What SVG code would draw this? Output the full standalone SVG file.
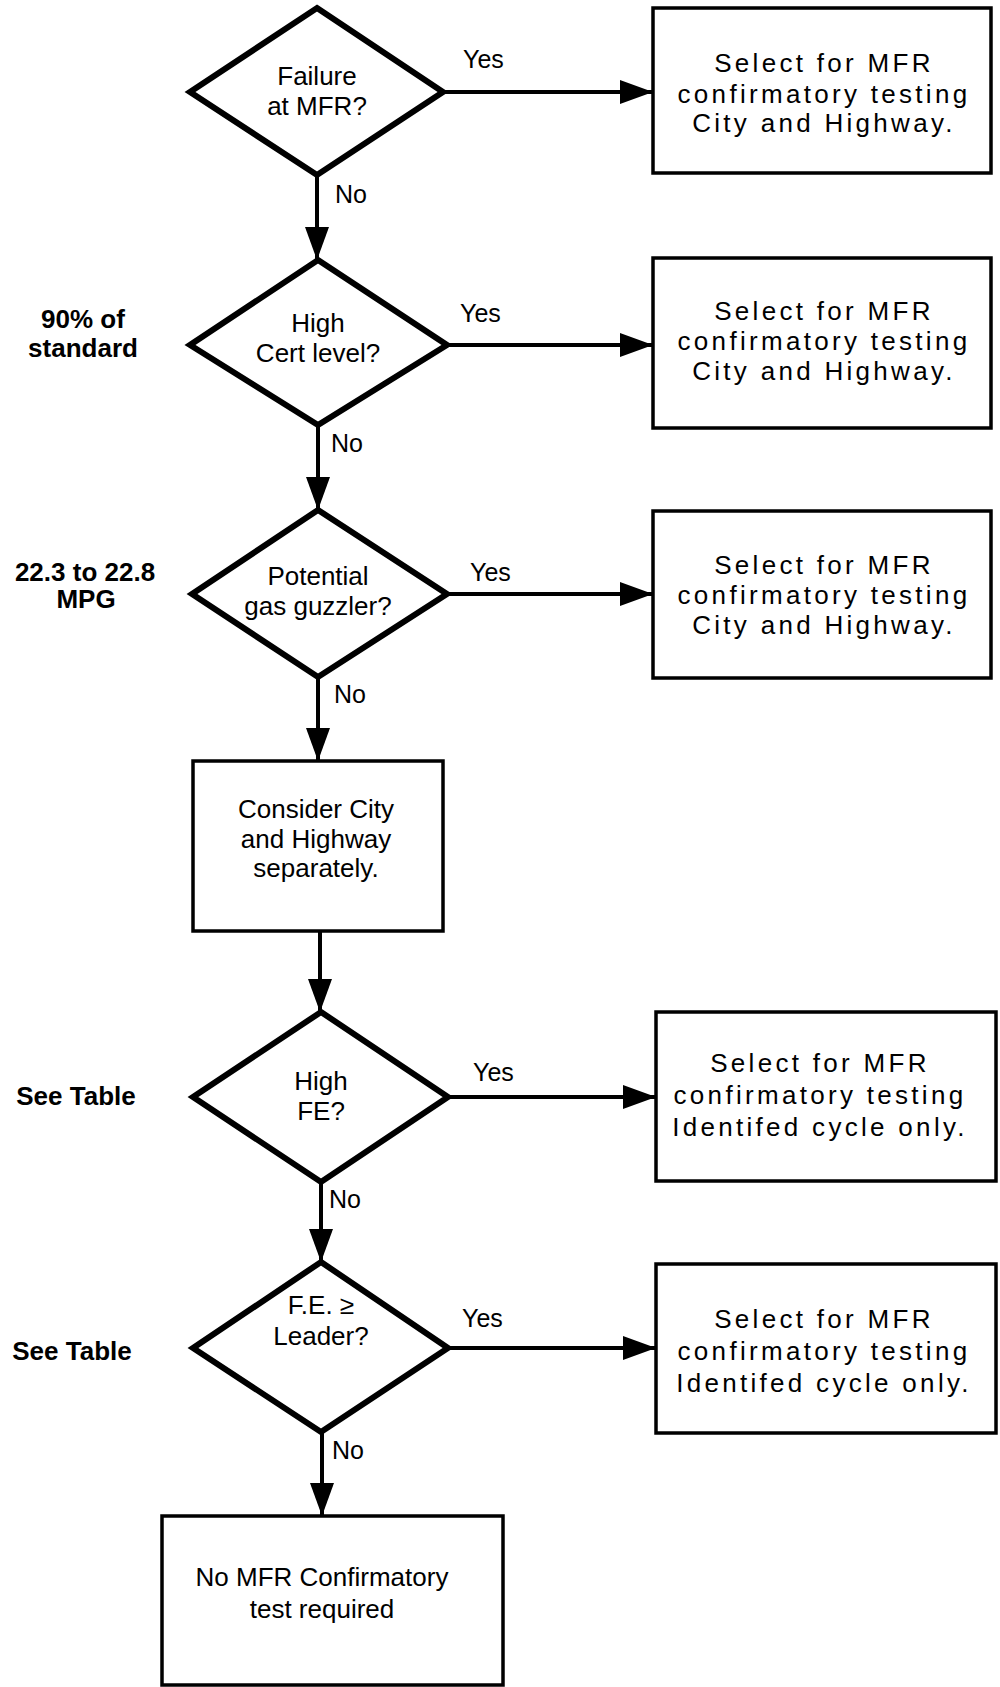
<svg xmlns="http://www.w3.org/2000/svg" width="1000" height="1687" viewBox="0 0 1000 1687">
<style>
.dia{fill:#fff;stroke:#000;stroke-width:6;stroke-linejoin:miter}
.box{fill:#fff;stroke:#000;stroke-width:3.5}
.con{fill:none;stroke:#000;stroke-width:4}
.t{font-family:"Liberation Sans",Arial,sans-serif;font-size:26px;fill:#000;text-anchor:middle}
.bt{font-family:"Liberation Sans",Arial,sans-serif;font-size:26px;letter-spacing:3.3px;fill:#000;text-anchor:middle}
.lbl{font-family:"Liberation Sans",Arial,sans-serif;font-size:25px;fill:#000}
.side{font-family:"Liberation Sans",Arial,sans-serif;font-size:26px;font-weight:bold;fill:#000;text-anchor:middle}
</style>
<defs>
<marker id="ah" markerUnits="userSpaceOnUse" markerWidth="34" markerHeight="26" refX="33" refY="12" orient="auto">
<path d="M0,0 L33,12 L0,24 z" fill="#000"/>
</marker>
</defs>
<rect width="1000" height="1687" fill="#fff"/>
<g id="connectors">
<line class="con" x1="443" y1="92" x2="653" y2="92" marker-end="url(#ah)"/>
<line class="con" x1="317" y1="175" x2="317" y2="260" marker-end="url(#ah)"/>
<line class="con" x1="447" y1="345" x2="653" y2="345" marker-end="url(#ah)"/>
<line class="con" x1="318" y1="425" x2="318" y2="510" marker-end="url(#ah)"/>
<line class="con" x1="447" y1="594" x2="653" y2="594" marker-end="url(#ah)"/>
<line class="con" x1="318" y1="677" x2="318" y2="761" marker-end="url(#ah)"/>
<line class="con" x1="320" y1="931" x2="320" y2="1012" marker-end="url(#ah)"/>
<line class="con" x1="448" y1="1097" x2="656" y2="1097" marker-end="url(#ah)"/>
<line class="con" x1="321" y1="1182" x2="321" y2="1262" marker-end="url(#ah)"/>
<line class="con" x1="448" y1="1348" x2="656" y2="1348" marker-end="url(#ah)"/>
<line class="con" x1="322" y1="1432" x2="322" y2="1516" marker-end="url(#ah)"/>
<text class="lbl" x="463" y="68">Yes</text>
<text class="lbl" x="335" y="203">No</text>
<text class="lbl" x="460" y="322">Yes</text>
<text class="lbl" x="331" y="452">No</text>
<text class="lbl" x="470" y="581">Yes</text>
<text class="lbl" x="334" y="703">No</text>
<text class="lbl" x="473" y="1081">Yes</text>
<text class="lbl" x="329" y="1208">No</text>
<text class="lbl" x="462" y="1327">Yes</text>
<text class="lbl" x="332" y="1459">No</text>
</g>
<g id="d1">
<polygon class="dia" points="317,8 443,92 317,175 190,92"/>
<text class="t" x="317" y="85">Failure</text>
<text class="t" x="317" y="115">at MFR?</text>
</g>
<g id="b1">
<rect class="box" x="653" y="8" width="338" height="165"/>
<text class="bt" x="824" y="72">Select for MFR</text>
<text class="bt" x="824" y="103">confirmatory testing</text>
<text class="bt" x="824" y="132">City and Highway.</text>
</g>
<g id="s1">
<text class="side" x="83" y="328">90% of</text>
<text class="side" x="83" y="357">standard</text>
</g>
<g id="d2">
<polygon class="dia" points="318,260 447,345 318,425 190,345"/>
<text class="t" x="318" y="332">High</text>
<text class="t" x="318" y="362">Cert level?</text>
</g>
<g id="b2">
<rect class="box" x="653" y="258" width="338" height="170"/>
<text class="bt" x="824" y="320">Select for MFR</text>
<text class="bt" x="824" y="350">confirmatory testing</text>
<text class="bt" x="824" y="380">City and Highway.</text>
</g>
<g id="s2">
<text class="side" x="85" y="581">22.3 to 22.8</text>
<text class="side" x="86" y="608">MPG</text>
</g>
<g id="d3">
<polygon class="dia" points="318,510 447,594 318,677 192,594"/>
<text class="t" x="318" y="585">Potential</text>
<text class="t" x="318" y="615">gas guzzler?</text>
</g>
<g id="b3">
<rect class="box" x="653" y="511" width="338" height="167"/>
<text class="bt" x="824" y="574">Select for MFR</text>
<text class="bt" x="824" y="604">confirmatory testing</text>
<text class="bt" x="824" y="634">City and Highway.</text>
</g>
<g id="c1">
<rect class="box" x="193" y="761" width="250" height="170"/>
<text class="t" x="316" y="818">Consider City</text>
<text class="t" x="316" y="848">and Highway</text>
<text class="t" x="316" y="877">separately.</text>
</g>
<g id="s3">
<text class="side" x="76" y="1105">See Table</text>
</g>
<g id="d4">
<polygon class="dia" points="321,1012 448,1097 321,1182 193,1097"/>
<text class="t" x="321" y="1090">High</text>
<text class="t" x="321" y="1120">FE?</text>
</g>
<g id="b4">
<rect class="box" x="656" y="1012" width="340" height="169"/>
<text class="bt" x="820" y="1072">Select for MFR</text>
<text class="bt" x="820" y="1104">confirmatory testing</text>
<text class="bt" x="820" y="1136">Identifed cycle only.</text>
</g>
<g id="s4">
<text class="side" x="72" y="1360">See Table</text>
</g>
<g id="d5">
<polygon class="dia" points="321,1262 448,1348 321,1432 193,1348"/>
<text class="t" x="321" y="1314">F.E. ≥</text>
<text class="t" x="321" y="1345">Leader?</text>
</g>
<g id="b5">
<rect class="box" x="656" y="1264" width="340" height="169"/>
<text class="bt" x="824" y="1328">Select for MFR</text>
<text class="bt" x="824" y="1360">confirmatory testing</text>
<text class="bt" x="824" y="1392">Identifed cycle only.</text>
</g>
<g id="end">
<rect class="box" x="162" y="1516" width="341" height="169"/>
<text class="t" x="322" y="1586">No MFR Confirmatory</text>
<text class="t" x="322" y="1618">test required</text>
</g>
</svg>
